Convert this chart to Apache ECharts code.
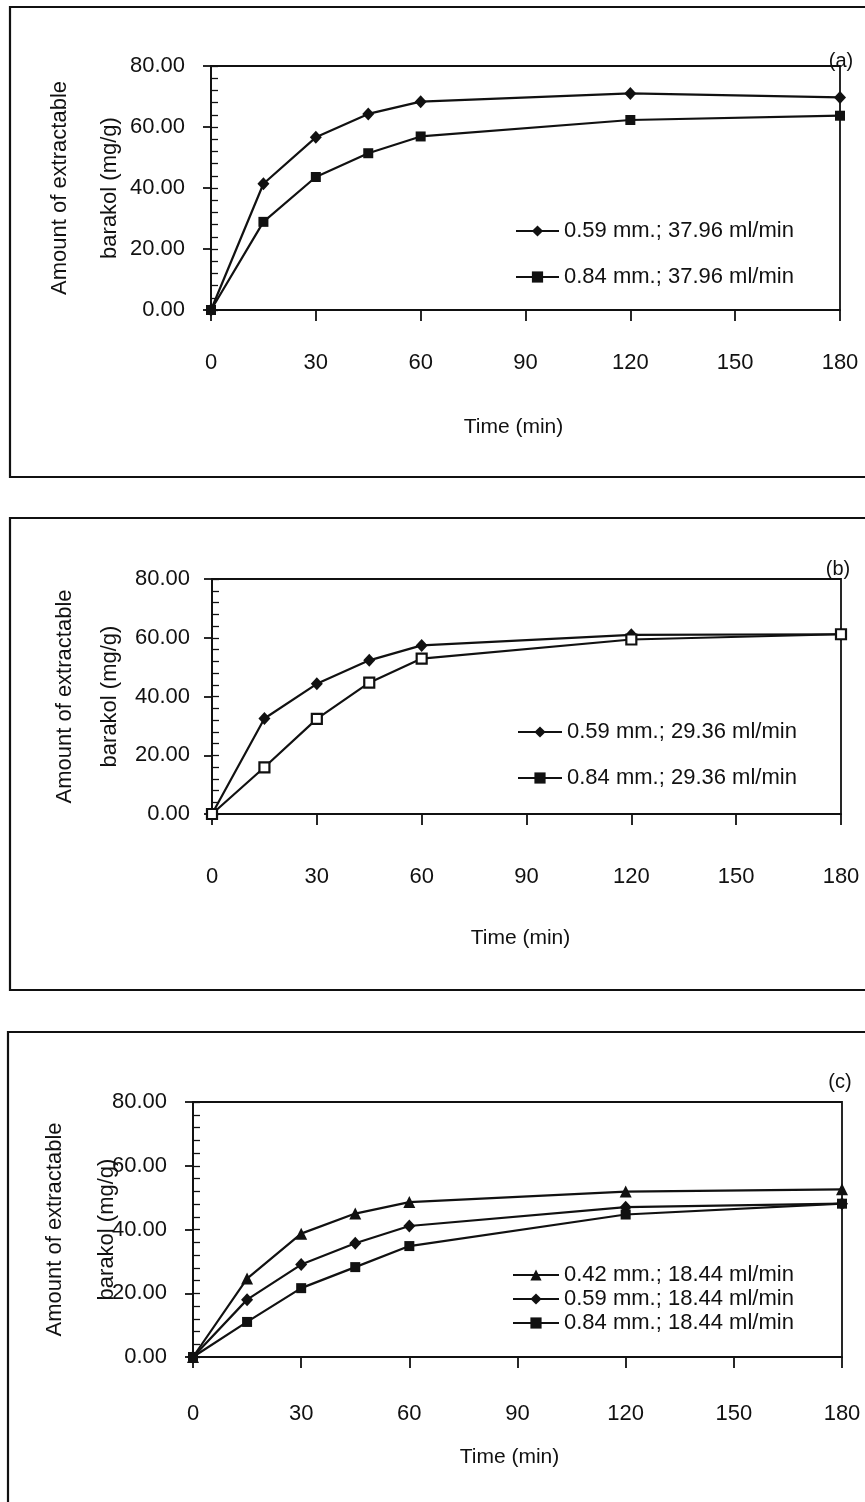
<!DOCTYPE html>
<html>
<head>
<meta charset="utf-8">
<title>Barakol extraction</title>
<script src="https://cdn.jsdelivr.net/npm/echarts@6/dist/echarts.min.js"></script>
<style>
html, body { margin: 0; padding: 0; background: #fff; }
#chart { width: 865px; height: 1502px; }
</style>
</head>
<body>
<div id="chart"></div>
<script>
// sampling times (min) and axis ticks
const timeMin = [0, 15, 30, 45, 60, 120, 180]
const xTicks = [0, 30, 60, 90, 120, 150, 180]
const yTicks = [0, 20, 40, 60, 80]

// (a) 37.96 ml/min
const a059 = [0, 41.4, 56.6, 64.3, 68.3, 71.0, 69.7]
const a084 = [0, 28.9, 43.6, 51.4, 56.9, 62.3, 63.7]
// (b) 29.36 ml/min
const b059 = [0, 32.5, 44.3, 52.3, 57.4, 61.0, 61.2]
const b084 = [0, 15.9, 32.4, 44.7, 52.9, 59.4, 61.2]
// (c) 18.44 ml/min
const c042 = [0, 24.6, 38.7, 45.0, 48.6, 51.9, 52.6]
const c059 = [0, 18.0, 29.0, 35.7, 41.1, 47.0, 48.1]
const c084 = [0, 11.0, 21.6, 28.2, 34.8, 44.7, 48.1]

const FONT = 'Liberation Sans'
const INK = '#111'

const panels = [
  {
    tag: '(a)', box: [10, 7, 870, 470], tagPos: [841, 61],
    grid: { left: 211, top: 66, width: 629, height: 244 },
    yNameGap: 76, yLineH: 50, yLabelMargin: 26,
    xLabelMargin: 42, xNameGap: 107, xNameShift: 12,
    legend: { left: 510, top: 215, itemGap: 24, itemWidth: 43 },
    series: [
      { name: '0.59 mm.; 37.96 ml/min', data: a059, symbol: 'diamond', size: [12, 13] },
      { name: '0.84 mm.; 37.96 ml/min', data: a084, symbol: 'rect', size: 10 }
    ]
  },
  {
    tag: '(b)', box: [10, 518, 870, 472], tagPos: [838, 569],
    grid: { left: 212, top: 579, width: 629, height: 235 },
    yNameGap: 80, yLineH: 45, yLabelMargin: 22,
    xLabelMargin: 52, xNameGap: 114, xNameShift: 6,
    legend: { left: 512, top: 716, itemGap: 24, itemWidth: 44 },
    series: [
      { name: '0.59 mm.; 29.36 ml/min', data: b059, symbol: 'diamond', size: [12, 13] },
      { name: '0.84 mm.; 29.36 ml/min', data: b084, symbol: 'rect', size: 10, hollow: true }
    ]
  },
  {
    tag: '(c)', box: [8, 1032, 870, 475], tagPos: [840, 1082],
    grid: { left: 193, top: 1102, width: 649, height: 255 },
    yNameGap: 60, yLineH: 52, yLabelMargin: 26,
    xLabelMargin: 46, xNameGap: 90, xNameShift: 8,
    legend: { left: 507, top: 1259, itemGap: 2, itemWidth: 46 },
    series: [
      { name: '0.42 mm.; 18.44 ml/min', data: c042, symbol: 'triangle', size: 12 },
      { name: '0.59 mm.; 18.44 ml/min', data: c059, symbol: 'diamond', size: [12, 13] },
      { name: '0.84 mm.; 18.44 ml/min', data: c084, symbol: 'rect', size: 10 }
    ]
  }
]

const option = {
  animation: false,
  backgroundColor: '#fff',
  textStyle: { fontFamily: FONT, color: INK },
  grid: [],
  xAxis: [],
  yAxis: [],
  legend: [],
  series: [],
  graphic: []
}

panels.forEach((p, gi) => {
  option.grid.push({
    ...p.grid,
    show: true,
    borderColor: INK,
    borderWidth: 1.8,
    backgroundColor: 'transparent'
  })
  option.xAxis.push({
    gridIndex: gi,
    type: 'value',
    min: xTicks[0],
    max: xTicks[xTicks.length - 1],
    interval: xTicks[1] - xTicks[0],
    name: 'Time (min)',
    nameLocation: 'middle',
    nameGap: p.xNameGap,
    nameMoveOverlap: false,
    nameTextStyle: { fontSize: 21, color: INK, fontFamily: FONT, padding: [0, p.xNameShift * 2, 0, 0] },
    axisLine: { lineStyle: { color: INK, width: 1.8 } },
    axisTick: { length: 11, lineStyle: { color: INK, width: 1.8 } },
    axisLabel: { margin: p.xLabelMargin, fontSize: 22, color: INK, fontFamily: FONT },
    splitLine: { show: false }
  })
  // main y axis: labels + outer major ticks
  option.yAxis.push({
    gridIndex: gi,
    type: 'value',
    min: yTicks[0],
    max: yTicks[yTicks.length - 1],
    interval: yTicks[1] - yTicks[0],
    name: 'Amount of extractable\nbarakol (mg/g)',
    nameLocation: 'middle',
    nameGap: p.yNameGap,
    nameMoveOverlap: false,
    nameTextStyle: { fontSize: 22, lineHeight: p.yLineH, color: INK, fontFamily: FONT },
    axisLine: { lineStyle: { color: INK, width: 1.8 } },
    axisTick: { length: 8, lineStyle: { color: INK, width: 1.8 } },
    axisLabel: {
      margin: p.yLabelMargin, fontSize: 22, color: INK, fontFamily: FONT,
      formatter: v => v.toFixed(2)
    },
    splitLine: { show: false }
  })
  option.legend.push({
    orient: 'vertical',
    left: p.legend.left,
    top: p.legend.top,
    itemGap: p.legend.itemGap,
    itemWidth: p.legend.itemWidth,
    itemHeight: 14,
    selectedMode: false,
    textStyle: { fontSize: 22, lineHeight: 22, color: INK, fontFamily: FONT },
    data: p.series.map(s => ({ name: s.name, itemStyle: { color: INK, borderWidth: 0 } }))
  })
  p.series.forEach(s => {
    option.series.push({
      name: s.name,
      type: 'line',
      xAxisIndex: gi,
      yAxisIndex: gi,
      data: timeMin.map((t, i) => [t, s.data[i]]),
      symbol: s.symbol,
      symbolSize: s.size,
      showAllSymbol: true,
      lineStyle: { color: INK, width: 2.2 },
      itemStyle: s.hollow
        ? { color: '#fff', borderColor: INK, borderWidth: 2.2 }
        : { color: INK },
      z: 5
    })
  })
  option.graphic.push({
    type: 'rect',
    shape: { x: p.box[0], y: p.box[1], width: p.box[2], height: p.box[3] },
    style: { fill: 'none', stroke: INK, lineWidth: 2.2 },
    silent: true
  })
  option.graphic.push({
    type: 'text',
    x: p.tagPos[0],
    y: p.tagPos[1],
    style: {
      text: p.tag, fill: INK, font: '20px "' + FONT + '"',
      textAlign: 'center', textVerticalAlign: 'middle'
    },
    silent: true
  })
})

// overlay grids that only carry the small inner y ticks (every 4 units)
panels.forEach((p, gi) => {
  const hi = panels.length + gi
  option.grid.push({ ...p.grid, show: false })
  option.xAxis.push({ gridIndex: hi, type: 'value', min: 0, max: 180, show: false })
  option.yAxis.push({
    gridIndex: hi,
    type: 'value',
    position: 'left',
    min: yTicks[0],
    max: yTicks[yTicks.length - 1],
    interval: 4,
    axisLine: { show: false },
    axisTick: { inside: true, length: 7, lineStyle: { color: INK, width: 1.3 } },
    axisLabel: { show: false },
    splitLine: { show: false }
  })
})

const chart = echarts.init(document.getElementById('chart'))
chart.setOption(option)
</script>
</body>
</html>
